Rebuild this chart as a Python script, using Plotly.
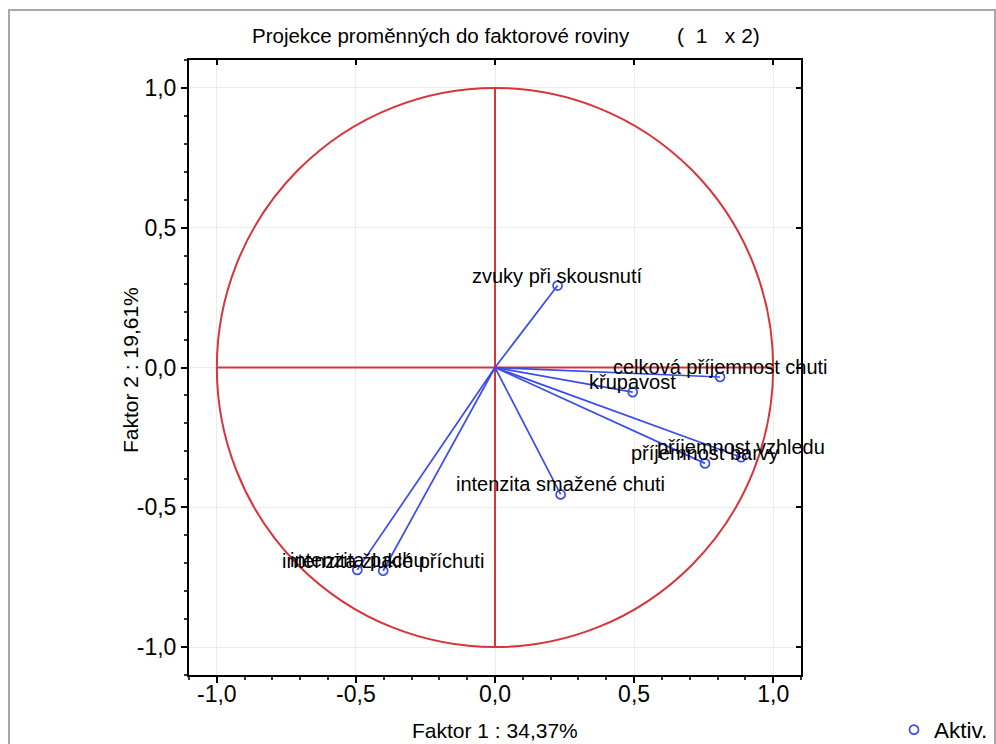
import plotly.graph_objects as go

# Factor loadings of the sensory variables on factors 1 and 2
variables = [
    "zvuky při skousnutí",
    "celková příjemnost chuti",
    "křupavost",
    "příjemnost vzhledu",
    "příjemnost barvy",
    "intenzita smažené chuti",
    "intenzita pachu",
    "intenzita žluklé příchuti",
]
faktor1 = [0.225, 0.809, 0.495, 0.885, 0.755, 0.236, -0.495, -0.402]
faktor2 = [0.293, -0.034, -0.088, -0.321, -0.343, -0.454, -0.724, -0.727]

tick_vals = [-1.0, -0.5, 0.0, 0.5, 1.0]
tick_text = ["-1,0", "-0,5", "0,0", "0,5", "1,0"]

title_main = "Projekce proměnných do faktorové roviny"
title_dims = "(  1   x 2)"
x_title = "Faktor 1 : 34,37%"
y_title = "Faktor 2 : 19,61%"
legend_name = "Aktiv."

FONT = "Liberation Sans, Arial, sans-serif"
RED = "#d9343a"
BLUE = "#3a4ce8"

# plot-area geometry in pixels
W, H = 996, 744
L, R, T, B = 189, 801, 60, 675


def px(xp):
    return (xp - L) / (R - L)


def py(yp):
    return (B - yp) / (B - T)


fig = go.Figure()

# vectors from the origin to each loading
lx, ly = [], []
for a, b in zip(faktor1, faktor2):
    lx += [0, a, None]
    ly += [0, b, None]
fig.add_trace(go.Scatter(x=lx, y=ly, mode="lines",
                         line=dict(color=BLUE, width=1.7),
                         showlegend=False, hoverinfo="skip"))

fig.add_trace(go.Scatter(
    x=faktor1, y=faktor2, mode="markers", name=legend_name,
    marker=dict(symbol="circle-open", size=9, color=BLUE,
                line=dict(width=1.7, color=BLUE)),
    text=variables, hoverinfo="text"))

# empty trace to create the mirrored top/right axes
fig.add_trace(go.Scatter(x=[None], y=[None], xaxis="x2", yaxis="y2",
                         showlegend=False, hoverinfo="skip"))

# unit circle and red cross
for shp in [dict(type="circle", x0=-1, y0=-1, x1=1, y1=1),
            dict(type="line", x0=-1, y0=0, x1=1, y1=0),
            dict(type="line", x0=0, y0=-1, x1=0, y1=1)]:
    fig.add_shape(**shp, xref="x", yref="y",
                  line=dict(color=RED, width=2), layer="between")

# outer window frame
fig.add_shape(type="rect", xref="paper", yref="paper",
              x0=px(9), x1=px(995), y0=py(770), y1=py(10),
              line=dict(color="#a8a8a8", width=2), layer="below")

annotations = []
for name, a, b in zip(variables, faktor1, faktor2):
    annotations.append(dict(x=a, y=b, xref="x", yref="y", text=name,
                            showarrow=False, yshift=10,
                            xanchor="center", yanchor="middle",
                            font=dict(family=FONT, size=20, color="black")))

annotations += [
    dict(x=px(250), y=py(36), xref="paper", yref="paper", text=title_main,
         showarrow=False, xanchor="left", yanchor="middle",
         font=dict(family=FONT, size=20.5, color="black")),
    dict(x=px(675), y=py(36), xref="paper", yref="paper", text=title_dims,
         showarrow=False, xanchor="left", yanchor="middle",
         font=dict(family=FONT, size=21, color="black")),
    dict(x=px(495), y=py(730), xref="paper", yref="paper", text=x_title,
         showarrow=False, xanchor="center", yanchor="middle",
         font=dict(family=FONT, size=21, color="black")),
    dict(x=px(130), y=py(370), xref="paper", yref="paper", text=y_title,
         showarrow=False, xanchor="center", yanchor="middle", textangle=-90,
         font=dict(family=FONT, size=21, color="black")),
]

axis_common = dict(
    range=[-1.1, 1.1], tickvals=tick_vals, ticktext=tick_text,
    showline=True, linecolor="black", linewidth=2, mirror=True,
    ticks="outside", ticklen=6, tickwidth=1.5, tickcolor="black",
    minor=dict(ticks="outside", dtick=0.1, ticklen=3, tickcolor="#333",
               showgrid=False),
    showgrid=True, gridcolor="#ececec", gridwidth=1,
    zeroline=False, tickfont=dict(family=FONT, size=23, color="black"),
)
mirror_common = dict(
    range=[-1.1, 1.1], tickvals=tick_vals, showticklabels=False,
    ticks="inside", ticklen=5, tickwidth=1.5, tickcolor="black",
    showgrid=False, zeroline=False, showline=False,
)

fig.update_layout(
    width=W, height=H,
    margin=dict(l=L, r=W - R, t=T, b=H - B, autoexpand=False),
    paper_bgcolor="white", plot_bgcolor="white",
    font=dict(family=FONT, size=20, color="black"),
    xaxis=dict(**axis_common, ticklabelstandoff=-9),
    yaxis=dict(**axis_common, ticklabelstandoff=0),
    xaxis2=dict(**mirror_common, overlaying="x", side="top"),
    yaxis2=dict(**mirror_common, overlaying="y", side="right"),
    showlegend=True,
    legend=dict(x=px(894), y=py(730), xanchor="left", yanchor="middle",
                bgcolor="rgba(0,0,0,0)",
                font=dict(family=FONT, size=22.5, color="black")),
    annotations=annotations,
)

fig.write_html("out.html")
